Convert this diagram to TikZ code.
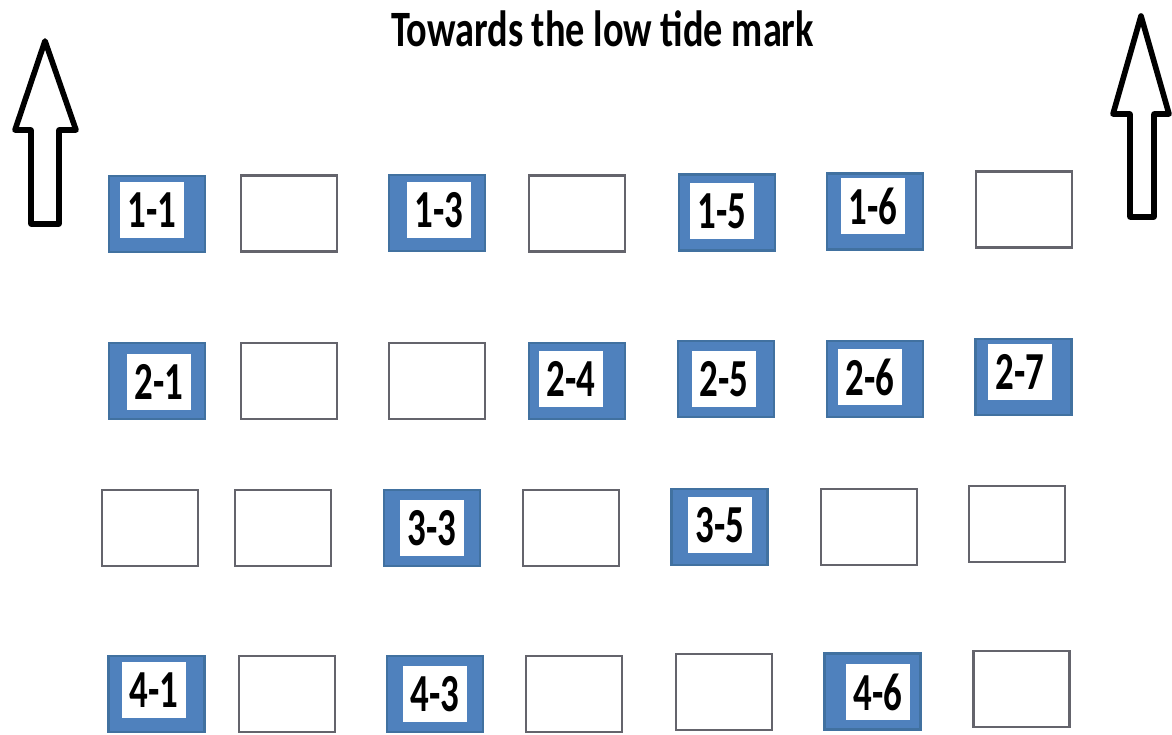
\documentclass[tikz,border=0pt]{standalone}
\usepackage{fontspec}
\setmainfont{Carlito}
\definecolor{hitblue}{RGB}{79,129,189}
\definecolor{hitedge}{RGB}{65,113,160}
\definecolor{cellgray}{RGB}{100,100,108}
\newcommand{\tallbf}[1]{\scalebox{1}[1.45]{\bfseries #1}}

\begin{document}
\begin{tikzpicture}[line width=0.6pt,
  cell/.style={draw=cellgray, line width=1.3pt, fill=white, minimum width=1.92cm, minimum height=1.52cm, inner sep=0pt},
  hit/.style={cell, draw=hitedge, fill=hitblue},
  tag/.style={fill=white, minimum width=1.28cm, minimum height=1.12cm, inner sep=0pt, font=\fontsize{21}{22}\selectfont}]
  \useasboundingbox (0.000,0.000) rectangle (23.440,14.680);
  % title and the two arrows
  \node[font=\fontsize{21.8}{24}\selectfont\bfseries, anchor=base, inner sep=0pt] (title) at (12.050,13.740) {\scalebox{1}[1.33]{Towards the low tide mark}};
  \draw[line width=3.2pt, line join=round] (0.620,10.200) -- (0.620,12.080) -- (0.300,12.080) -- (0.900,13.860) -- (1.520,12.080) -- (1.180,12.080) -- (1.180,10.200) -- cycle;
  \draw[line width=3.2pt, line join=round] (22.600,10.340) -- (22.600,12.400) -- (22.260,12.400) -- (22.820,14.360) -- (23.380,12.400) -- (23.080,12.400) -- (23.080,10.340) -- cycle;
  % row 1
  \node[hit]  (b11) at (3.140,10.400) {};
  \node[cell] (e12) at (5.780,10.410) {};
  \node[hit]  (b13) at (8.740,10.420) {};
  \node[cell] (e14) at (11.540,10.410) {};
  \node[hit]  (b15) at (14.540,10.430) {};
  \node[hit]  (b16) at (17.500,10.450) {};
  \node[cell] (e17) at (20.480,10.490) {};
  % row 2
  \node[hit]  (b21) at (3.140,7.060) {};
  \node[cell] (e22) at (5.780,7.060) {};
  \node[cell] (e23) at (8.740,7.060) {};
  \node[hit]  (b24) at (11.540,7.060) {};
  \node[hit]  (b25) at (14.520,7.100) {};
  \node[hit]  (b26) at (17.500,7.100) {};
  \node[hit]  (b27) at (20.470,7.140) {};
  % row 3
  \node[cell] (e31) at (3.000,4.120) {};
  \node[cell] (e32) at (5.660,4.120) {};
  \node[hit]  (b33) at (8.640,4.120) {};
  \node[cell] (e34) at (11.420,4.120) {};
  \node[hit]  (b35) at (14.390,4.140) {};
  \node[cell] (e36) at (17.380,4.140) {};
  \node[cell] (e37) at (20.340,4.200) {};
  % row 4
  \node[hit]  (b41) at (3.130,0.800) {};
  \node[cell] (e42) at (5.740,0.800) {};
  \node[hit]  (b43) at (8.700,0.800) {};
  \node[cell] (e44) at (11.480,0.800) {};
  \node[cell] (e45) at (14.480,0.840) {};
  \node[hit]  (b46) at (17.450,0.850) {};
  \node[cell] (e47) at (20.430,0.900) {};
  % labels
  \node[tag] (t11) at (3.040,10.480) {\tallbf{1-1}};
  \node[tag] (t13) at (8.780,10.480) {\tallbf{1-3}};
  \node[tag] (t15) at (14.440,10.460) {\tallbf{1-5}};
  \node[tag] (t16) at (17.460,10.560) {\tallbf{1-6}};
  \node[tag] (t21) at (3.180,7.040) {\tallbf{2-1}};
  \node[tag] (t24) at (11.420,7.100) {\tallbf{2-4}};
  \node[tag] (t25) at (14.480,7.100) {\tallbf{2-5}};
  \node[tag] (t26) at (17.400,7.140) {\tallbf{2-6}};
  \node[tag] (t27) at (20.400,7.240) {\tallbf{2-7}};
  \node[tag] (t33) at (8.640,4.120) {\tallbf{3-3}};
  \node[tag] (t35) at (14.400,4.180) {\tallbf{3-5}};
  \node[tag] (t41) at (3.080,0.880) {\tallbf{4-1}};
  \node[tag] (t43) at (8.700,0.800) {\tallbf{4-3}};
  \node[tag] (t46) at (17.560,0.840) {\tallbf{4-6}};
\end{tikzpicture}
\end{document}
